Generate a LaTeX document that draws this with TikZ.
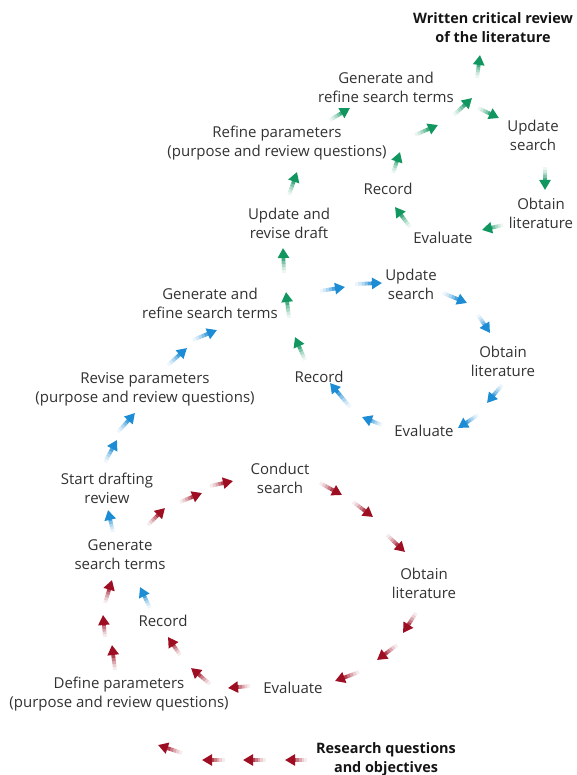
\documentclass[tikz,border=0pt]{standalone}
\usepackage{fontspec}
\setmainfont{Open Sans}
\usetikzlibrary{arrows.meta,calc}

\definecolor{flowred}{RGB}{158,14,34}
\definecolor{flowblue}{RGB}{28,140,212}
\definecolor{flowgreen}{RGB}{18,150,96}
\definecolor{labelgray}{RGB}{50,50,50}

\tikzset{
  lbl/.style={align=center, text=labelgray, inner sep=0pt,
    font=\fontsize{15}{19}\selectfont},
  goal/.style={lbl, text=black!92, font=\fontsize{14.4}{19}\selectfont\bfseries},
  flowshaft/.style={line width=3.8pt},
  flowtip/.style={-{Triangle[length=10pt,width=11pt]}}
}

% one short arrow whose shaft fades in from the tail towards the head
\newcommand\flowarrow[3]{%
  \foreach \fa/\fb/\fp in {0/.12/8,.12/.24/20,.24/.36/36,.36/.48/55,.48/.6/78}
    \draw[flowshaft, draw=#1!\fp] ($(#2)!\fa!(#3)$) -- ($(#2)!\fb!(#3)$);
  \draw[flowshaft, flowtip, draw=#1, fill=#1] ($(#2)!.6!(#3)$) -- (#3);
}

\begin{document}
\begin{tikzpicture}[x=1pt, y=-1pt]
\useasboundingbox (0,0) rectangle (576,775);

% ---- first cycle (red) ----
\node[goal] (rq)   at (386,759) {Research questions\\and objectives};
\node[lbl]  (def1) at (119,694) {Define parameters\\(purpose and review questions)};
\node[lbl]  (gen1) at (120,555) {Generate\\search terms};
\node[lbl]  (con1) at (280,478) {Conduct\\search};
\node[lbl]  (obt1) at (424,583) {Obtain\\literature};
\node[lbl]  (eva1) at (293,688) {Evaluate};
\node[lbl]  (rec1) at (163,621) {Record};
\node[lbl]  (sdr)  at (107,488) {Start drafting\\review};

% ---- second cycle (blue) ----
\node[lbl]  (rev2) at (145,389) {Revise parameters\\(purpose and review questions)};
\node[lbl]  (gen2) at (210,303) {Generate and\\refine search terms};
\node[lbl]  (upd2) at (411,284) {Update\\search};
\node[lbl]  (obt2) at (503,361) {Obtain\\literature};
\node[lbl]  (eva2) at (424,431) {Evaluate};
\node[lbl]  (rec2) at (319,377) {Record};

% ---- third cycle (green) ----
\node[lbl]  (urd)  at (289,223) {Update and\\revise draft};
\node[lbl]  (ref3) at (277,143) {Refine parameters\\(purpose and review questions)};
\node[lbl]  (gen3) at (386,87)  {Generate and\\refine search terms};
\node[lbl]  (upd3) at (533,135) {Update\\search};
\node[lbl]  (obt3) at (541,213) {Obtain\\literature};
\node[lbl]  (eva3) at (443,238) {Evaluate};
\node[lbl]  (rec3) at (388,189) {Record};
\node[goal] (wcr)  at (493,28)  {Written critical review\\of the literature};

% research questions -> define parameters
\flowarrow{flowred}{307,760}{285,760}
\flowarrow{flowred}{266,760}{243,760}
\flowarrow{flowred}{225,760}{202,760}
\flowarrow{flowred}{182,753}{158,745}
% define parameters -> generate search terms
\flowarrow{flowred}{115,670}{112,645}
\flowarrow{flowred}{105,637}{103,615}
\flowarrow{flowred}{105,603}{112,580}
% generate search terms -> conduct search
\flowarrow{flowred}{148,525}{165,508}
\flowarrow{flowred}{180,502}{202,493}
\flowarrow{flowred}{210,486}{233,481}
% conduct search -> obtain literature
\flowarrow{flowred}{320,483}{342,495}
\flowarrow{flowred}{353,502}{373,517}
\flowarrow{flowred}{387,535}{405,552}
% obtain literature -> evaluate
\flowarrow{flowred}{416,613}{403,633}
\flowarrow{flowred}{397,645}{377,660}
\flowarrow{flowred}{359,672}{335,681}
% evaluate -> record
\flowarrow{flowred}{250,686}{228,688}
\flowarrow{flowred}{210,684}{191,668}
\flowarrow{flowred}{180,655}{168,637}

% record -> generate search terms, then on to drafting
\flowarrow{flowblue}{150,608}{140,587}
\flowarrow{flowblue}{113,532}{108,510}
% start drafting -> revise parameters
\flowarrow{flowblue}{105,462}{117,440}
\flowarrow{flowblue}{118,432}{135,413}
% revise parameters -> generate and refine
\flowarrow{flowblue}{168,365}{187,348}
\flowarrow{flowblue}{193,340}{217,330}
% generate and refine -> update search
\flowarrow{flowblue}{320,291}{345,287}
\flowarrow{flowblue}{355,284}{382,283}
% update search -> obtain literature
\flowarrow{flowblue}{443,293}{467,303}
\flowarrow{flowblue}{478,315}{490,333}
% obtain literature -> evaluate
\flowarrow{flowblue}{502,385}{487,403}
\flowarrow{flowblue}{478,415}{458,428}
% evaluate -> record
\flowarrow{flowblue}{382,425}{362,417}
\flowarrow{flowblue}{350,407}{330,383}

% record -> generate and refine -> update and revise draft
\flowarrow{flowgreen}{305,360}{295,337}
\flowarrow{flowgreen}{289,318}{286,292}
\flowarrow{flowgreen}{284,273}{283,248}
% update and revise draft -> refine parameters -> generate and refine
\flowarrow{flowgreen}{289,195}{297,172}
\flowarrow{flowgreen}{330,120}{350,108}
% record -> generate and refine
\flowarrow{flowgreen}{393,173}{400,152}
\flowarrow{flowgreen}{415,135}{438,125}
\flowarrow{flowgreen}{454,115}{472,98}
% branch: written review, or another search round
\flowarrow{flowgreen}{477,78}{480,55}
\flowarrow{flowgreen}{478,108}{499,118}
\flowarrow{flowgreen}{545,167}{545,190}
\flowarrow{flowgreen}{503,225}{482,230}
\flowarrow{flowgreen}{410,227}{395,207}
\end{tikzpicture}
\end{document}
